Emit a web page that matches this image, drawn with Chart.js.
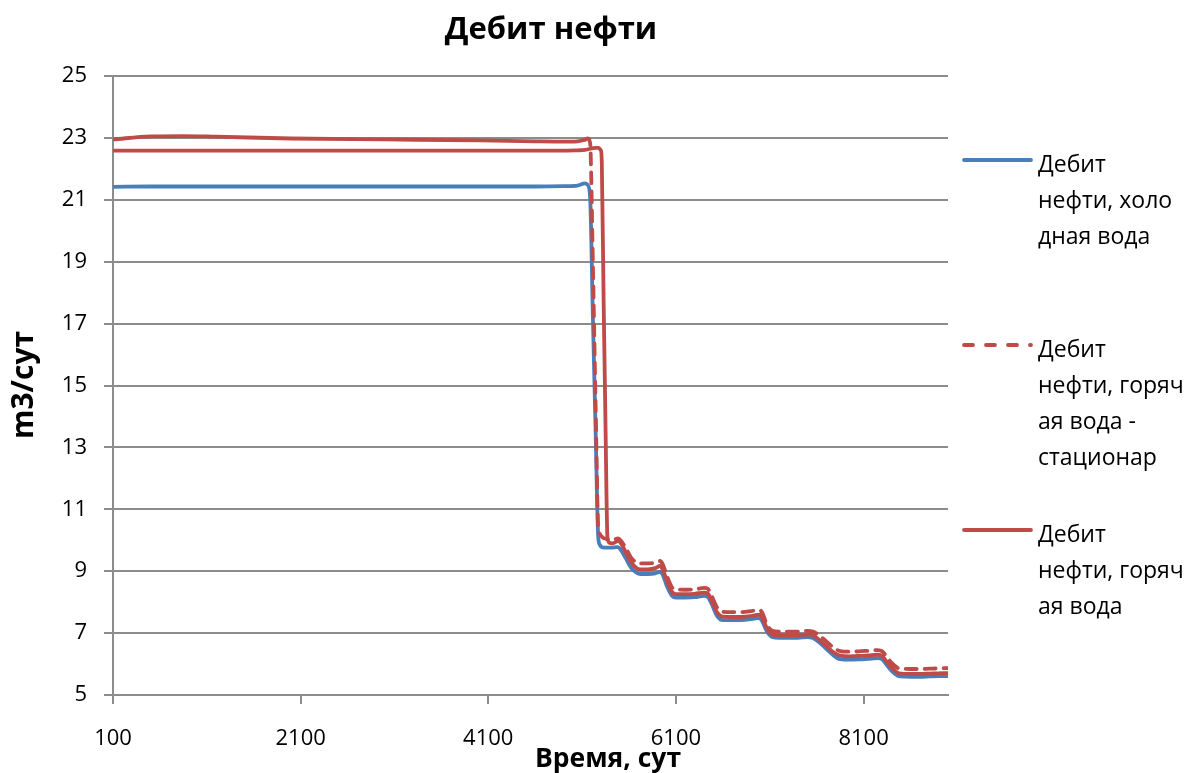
<!DOCTYPE html>
<html lang="ru">
<head>
<meta charset="utf-8">
<title>Дебит нефти</title>
<script src="https://cdn.jsdelivr.net/npm/chart.js@4.4.1/dist/chart.umd.min.js"></script>
<style>
  html, body { margin: 0; padding: 0; background: #fff; }
  #wrap { position: relative; width: 1200px; height: 773px; overflow: hidden;
          font-family: "Open Sans", "DejaVu Sans", sans-serif; color: #000; }
  #chart { position: absolute; left: 0; top: 0; }
  .ttl { position: absolute; font-weight: bold; white-space: nowrap; line-height: 1; text-align: center; }
  #mainTitle { left: 0; width: 1102px; top: 12px; font-size: 31px; }
  #xTitle { left: 408px; width: 400px; top: 744px; font-size: 26.5px; }
  #yTitle { left: -178px; top: 365px; width: 400px; height: 40px; line-height: 40px;
            font-size: 30px; transform: rotate(-90deg); }
  .lg-item { position: absolute; left: 962px; width: 238px; height: 160px; }
  .lg-item svg { position: absolute; left: 0; }
  .lg-text { position: absolute; left: 76px; top: 0; font-size: 23px; line-height: 36px; white-space: nowrap; }
</style>
</head>
<body>
<div id="wrap">
  <canvas id="chart" width="1200" height="773"></canvas>
  <div id="mainTitle" class="ttl">Дебит нефти</div>
  <div id="xTitle" class="ttl">Время, сут</div>
  <div id="yTitle" class="ttl">m3/сут</div>
  <div id="legend"></div>
</div>
<script>
// Time, days
const days = [100, 500, 850, 1200, 2000, 3000, 4000, 4600, 4900, 5050,
  5130, 5160, 5185, 5215, 5245, 5272, 5290, 5300, 5310, 5330,
  5350, 5370, 5390, 5420, 5450, 5480, 5510, 5560, 5620, 5680,
  5720, 5800, 5880, 5930, 5960, 6000, 6060, 6100, 6200, 6300,
  6400, 6440, 6480, 6540, 6600, 6700, 6800, 6900, 6990, 7020,
  7070, 7130, 7200, 7300, 7400, 7500, 7560, 7620, 7700, 7780,
  7850, 7950, 8050, 8150, 8250, 8300, 8340, 8400, 8460, 8500,
  8600, 8700, 8800, 8900, 9000];

// Oil rate, m3/day — cold water injection
const coldWater = [21.42, 21.43, 21.43, 21.43, 21.43, 21.43, 21.43, 21.43, 21.44, 21.46,
  21.53, 21.48, 21.10, 17.20, 13.40, 10.10, 9.85, 9.80, 9.78, 9.76,
  9.76, 9.76, 9.76, 9.76, 9.77, 9.78, 9.70, 9.45, 9.12, 8.95,
  8.91, 8.91, 8.93, 8.98, 8.88, 8.55, 8.20, 8.15, 8.15, 8.16,
  8.20, 8.17, 7.95, 7.55, 7.42, 7.42, 7.42, 7.45, 7.49, 7.38,
  7.05, 6.87, 6.85, 6.85, 6.85, 6.87, 6.84, 6.72, 6.50, 6.28,
  6.16, 6.14, 6.15, 6.17, 6.19, 6.15, 6.00, 5.78, 5.63, 5.60,
  5.59, 5.59, 5.60, 5.61, 5.61];

// Oil rate — hot water, stationary case
const hotWaterSteady = [22.95, 23.05, 23.06, 23.04, 22.98, 22.95, 22.92, 22.89, 22.88, 22.89,
  22.94, 22.98, 22.85, 18.90, 14.20, 10.40, 10.20, 10.15, 10.12, 10.07,
  10.05, 10.03, 10.02, 10.02, 10.03, 10.06, 10.00, 9.78, 9.45, 9.28,
  9.25, 9.25, 9.28, 9.33, 9.22, 8.88, 8.47, 8.41, 8.40, 8.41,
  8.46, 8.43, 8.21, 7.82, 7.69, 7.68, 7.68, 7.71, 7.75, 7.66,
  7.28, 7.07, 7.05, 7.05, 7.05, 7.07, 7.05, 6.94, 6.74, 6.53,
  6.42, 6.40, 6.41, 6.43, 6.45, 6.41, 6.26, 6.04, 5.88, 5.85,
  5.84, 5.84, 5.85, 5.86, 5.87];

// Oil rate — hot water
const hotWater = [22.59, 22.59, 22.59, 22.59, 22.59, 22.59, 22.59, 22.59, 22.59, 22.60,
  22.61, 22.63, 22.65, 22.67, 22.68, 22.68, 22.64, 22.60, 22.20, 17.60,
  13.60, 10.10, 9.92, 9.90, 9.93, 9.98, 9.92, 9.65, 9.30, 9.10,
  9.06, 9.06, 9.10, 9.17, 9.05, 8.72, 8.32, 8.26, 8.26, 8.27,
  8.31, 8.28, 8.06, 7.66, 7.53, 7.52, 7.52, 7.55, 7.60, 7.50,
  7.15, 6.95, 6.93, 6.93, 6.93, 6.95, 6.93, 6.80, 6.59, 6.38,
  6.27, 6.25, 6.26, 6.28, 6.30, 6.26, 6.10, 5.88, 5.72, 5.69,
  5.68, 5.68, 5.69, 5.70, 5.71];

const seriesNames = [
  'Дебит нефти, холодная вода',
  'Дебит нефти, горячая вода - стационар',
  'Дебит нефти, горячая вода'
];
// legend captions broken into lines
const legendLines = [
  ['Дебит', 'нефти, холо', 'дная вода'],
  ['Дебит', 'нефти, горяч', 'ая вода -', 'стационар'],
  ['Дебит', 'нефти, горяч', 'ая вода']
];

const xTicks = [100, 2100, 4100, 6100, 8100];
const yTicks = [5, 7, 9, 11, 13, 15, 17, 19, 21, 23, 25];

const BLUE = '#4a7ebb';
const RED = '#be4b48';
const GRID = '#8c8c8c';
const DASH = [11, 8];
const FONT = 'Open Sans';

const toPoints = ys => days.map((d, i) => ({ x: d, y: ys[i] }));

const datasets = [
  { label: seriesNames[0], data: toPoints(coldWater), borderColor: BLUE, order: 3 },
  { label: seriesNames[1], data: toPoints(hotWaterSteady), borderColor: RED, order: 2,
    borderDash: DASH,
    // the dense early part of this run is drawn as a continuous stroke
    segment: { borderDash: c => (c.p0.parsed.x < 5130 ? [] : DASH) } },
  { label: seriesNames[2], data: toPoints(hotWater), borderColor: RED, order: 1 }
];

const chart = new Chart(document.getElementById('chart'), {
  type: 'line',
  data: { datasets },
  options: {
    responsive: false,
    animation: false,
    layout: { padding: { left: 0, right: 252, top: 76, bottom: 0 } },
    elements: {
      line: { borderWidth: 3.8, cubicInterpolationMode: 'monotone',
              borderCapStyle: 'round', borderJoinStyle: 'round', fill: false },
      point: { radius: 0, hoverRadius: 0 }
    },
    plugins: { legend: { display: false }, title: { display: false }, tooltip: { enabled: false } },
    scales: {
      x: {
        type: 'linear', min: 100, max: 9000,
        afterBuildTicks: s => { s.ticks = xTicks.map(v => ({ value: v })); },
        afterFit: s => { s.height = 78; },
        grid: { drawOnChartArea: false, drawTicks: true, tickLength: 9, color: GRID, lineWidth: 2 },
        border: { display: true, color: GRID, width: 2 },
        ticks: { padding: 22, color: '#000', font: { family: FONT, size: 22 },
                 maxRotation: 0, autoSkip: false, callback: v => String(v) }
      },
      y: {
        type: 'linear', min: 5, max: 25,
        afterBuildTicks: s => { s.ticks = yTicks.map(v => ({ value: v })); },
        afterFit: s => { s.width = 113; },
        grid: { color: GRID, lineWidth: 2, tickLength: 9 },
        border: { display: true, color: GRID, width: 2 },
        ticks: { padding: 17, color: '#000', font: { family: FONT, size: 22 }, callback: v => String(v) }
      }
    }
  }
});

// legend on the right, built from the datasets
const legendTops = [145, 330, 515];
const legendEl = document.getElementById('legend');
chart.data.datasets.forEach((ds, i) => {
  const item = document.createElement('div');
  item.className = 'lg-item';
  item.style.top = legendTops[i] + 'px';
  const dash = (ds.borderDash && ds.borderDash.length) ? 'stroke-dasharray="9 13"' : '';
  item.innerHTML =
    '<svg width="72" height="12" style="top:9px"><line x1="2" y1="6" x2="69" y2="6" stroke="' +
    ds.borderColor + '" stroke-width="3.8" stroke-linecap="round" ' + dash + '/></svg>' +
    '<div class="lg-text">' + legendLines[i].join('<br>') + '</div>';
  item.title = ds.label;
  legendEl.appendChild(item);
});
</script>
</body>
</html>
